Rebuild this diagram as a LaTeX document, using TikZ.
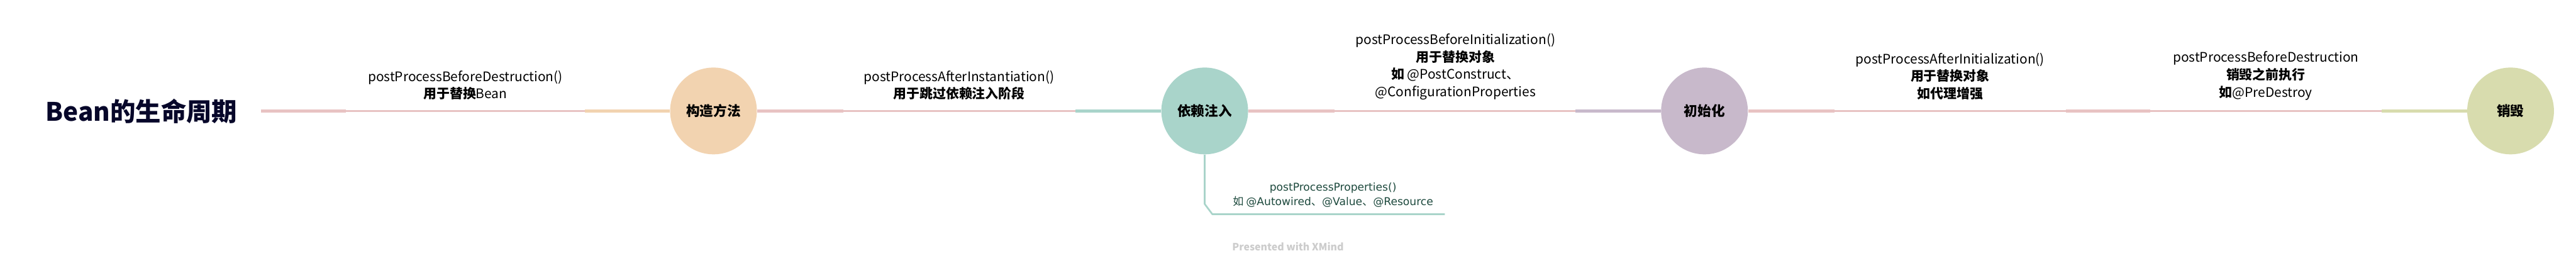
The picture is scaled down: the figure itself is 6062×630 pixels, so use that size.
\documentclass[tikz,border=0pt]{standalone}
\usepackage{fontspec}
\setmainfont{Noto Sans CJK SC}
\newfontfamily\dejavu{DejaVu Sans}
\definecolor{cpink}{HTML}{E8C3C3}
\definecolor{corange}{HTML}{F2D3B0}
\definecolor{cteal}{HTML}{A9D4CA}
\definecolor{cpurple}{HTML}{C8B9CB}
\definecolor{ckhaki}{HTML}{D8DCAE}
\definecolor{ctitle}{HTML}{07072A}
\definecolor{cgreen}{HTML}{1E4A3E}
\definecolor{cmark}{HTML}{CCCCCC}
\begin{document}
\begin{tikzpicture}[x=0.01cm,y=-0.01cm,
  thickln/.style={line width=1.9pt},
  thinln/.style={line width=1.14pt},
  stage/.style={circle, minimum size=2.04cm, inner sep=0pt, font=\fontsize{9.1}{11}\selectfont\bfseries},
  lbl/.style={align=center, anchor=south, inner sep=0pt, font=\fontsize{8.8}{11.7}\selectfont},
  sublbl/.style={align=center, anchor=south, inner sep=0pt, text=cgreen, font=\fontsize{7.2}{9.7}\selectfont}]
\fill[white] (0,0) rectangle (6062,630);
\useasboundingbox (0,0) rectangle (6062,630);

% title and stages
\node[text=ctitle, font=\fontsize{17}{20}\selectfont\bfseries, inner sep=0pt] (t) at (333,261) {Bean的生命周期};
\node[stage, fill=corange] (c1) at (1679,261) {构造方法};
\node[stage, fill=cteal] (c2) at (2835,261) {依赖注入};
\node[stage, fill=cpurple] (c3) at (4011,261) {初始化};
\node[stage, fill=ckhaki] (c4) at (5908,261) {销毁};

% connector points
\coordinate (t1) at (614,261);
\coordinate (a1) at (814,261);  \coordinate (b1) at (1377,261);
\coordinate (a2) at (1984,261); \coordinate (b2) at (2531,261);
\coordinate (a3) at (3141,261); \coordinate (b3) at (3708,261);
\coordinate (a4) at (4317,261); \coordinate (b4) at (4861,261);
\coordinate (a5) at (5060,261); \coordinate (b5) at (5605,261);

% title -> c1
\draw[thickln, cpink] (t1) -- (a1);
\draw[thinln, cpink] (a1) -- (b1);
\draw[thickln, corange] (b1) -- (c1.west);
% c1 -> c2
\draw[thickln, cpink] (c1.east) -- (a2);
\draw[thinln, cpink] (a2) -- (b2);
\draw[thickln, cteal] (b2) -- (c2.west);
% c2 -> c3
\draw[thickln, cpink] (c2.east) -- (a3);
\draw[thinln, cpink] (a3) -- (b3);
\draw[thickln, cpurple] (b3) -- (c3.west);
% c3 -> c4
\draw[thickln, cpink] (c3.east) -- (a4);
\draw[thinln, cpink] (a4) -- (b4);
\draw[thickln, cpink] (b4) -- (a5);
\draw[thinln, cpink] (a5) -- (b5);
\draw[thickln, ckhaki] (b5) -- (c4.west);

% labels
\node[lbl] (l1) at (1095,236) {postProcessBeforeDestruction()\\\textbf{用于替换}Bean};
\node[lbl] (l2) at (2257,236) {postProcessAfterInstantiation()\\\textbf{用于跳过依赖注入阶段}};
\node[lbl] (l3) at (3425,236) {postProcessBeforeInitialization()\\\textbf{用于替换对象}\\\textbf{如} @PostConstruct、\\@ConfigurationProperties};
\node[lbl] (l4) at (4589,236) {postProcessAfterInitialization()\\\textbf{用于替换对象}\\\textbf{如代理增强}};
\node[lbl] (l5) at (5332,236) {postProcessBeforeDestruction\\\textbf{销毁之前执行}\\\textbf{如}@PreDestroy};

% sub branch
\coordinate (s1) at (2835,480);
\coordinate (s2) at (2853,504);
\coordinate (s3) at (3400,504);
\draw[thinln, cteal, line join=round] (c2.south) -- (s1) -- (s2) -- (s3);
\node[sublbl] (sl) at (3137,488) {{\dejavu postProcessProperties()}\\如 {\dejavu @Autowired}、{\dejavu @Value}、{\dejavu @Resource}};

\node[text=cmark, font=\fontsize{6.7}{8}\selectfont\bfseries, inner sep=0pt] (wm) at (3031,580) {Presented with XMind};
\end{tikzpicture}
\end{document}
